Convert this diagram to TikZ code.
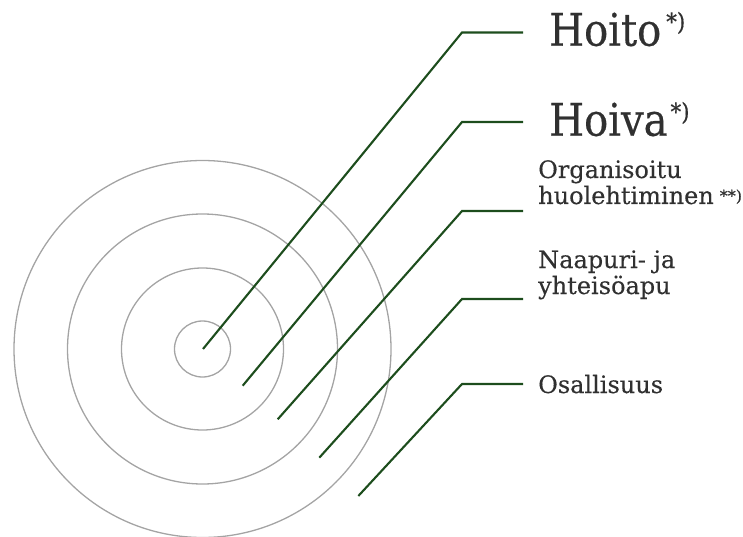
\documentclass[tikz,border=0pt]{standalone}
\usepackage{fontspec}
\setmainfont{DejaVu Serif}[FakeBold=0.3]
\newfontfamily\narrowserif{DejaVu Serif}[FakeStretch=0.89,FakeBold=0.4]
\definecolor{lineg}{HTML}{1D4D1D}
\definecolor{ring}{HTML}{A4A4A4}
\definecolor{txt}{HTML}{303030}
\newcommand{\bigsup}{\fontsize{24}{24}\selectfont\raisebox{15.5pt}{*)}}
\newcommand{\smallsup}{\fontsize{16}{16}\selectfont\raisebox{2.5pt}{**)}}
\begin{document}
\begin{tikzpicture}[x=1pt,y=-1pt,
  ringline/.style={draw=ring,line width=1.3pt},
  leader/.style={draw=lineg,line width=2.1pt},
  bigl/.style={anchor=base west,inner sep=0pt,text=txt,font=\narrowserif\fontsize{45}{48}\selectfont},
  smalll/.style={anchor=base west,inner sep=0pt,text=txt,align=left,font=\fontsize{24}{26}\selectfont}]
\useasboundingbox (0,0) rectangle (743,537);
\coordinate (c) at (202.5,349);
\foreach \r in {28,81,135,188.5} \draw[ringline] (c) circle (\r);
\coordinate (s1) at (203,349);
\coordinate (s2) at (242.7,385.7);
\coordinate (s3) at (277.7,419.3);
\coordinate (s4) at (319.3,457.7);
\coordinate (s5) at (358.3,496);
\coordinate (k1) at (462,32.5);
\coordinate (k2) at (462,122);
\coordinate (k3) at (462,211);
\coordinate (k4) at (462,299);
\coordinate (k5) at (462,384);
\coordinate (e1) at (523,32.5);
\coordinate (e2) at (523,122);
\coordinate (e3) at (523,211);
\coordinate (e4) at (523,299);
\coordinate (e5) at (523,384);
\foreach \i in {1,...,5} \draw[leader,line join=miter] (s\i) -- (k\i) -- (e\i);
\node[bigl] (t1) at (549,45.7) {Hoito\hspace{5pt}\bigsup};
\node[bigl] (t2) at (549,135.7) {Hoiva\hspace{3pt}\bigsup};
\node[smalll] (t3) at (538,204) {Organisoitu\\huolehtiminen\hspace{6pt}\smallsup};
\node[smalll] (t4) at (538,294) {Naapuri- ja\\yhteisöapu};
\node[smalll] (t5) at (538,393) {Osallisuus};
\end{tikzpicture}
\end{document}
